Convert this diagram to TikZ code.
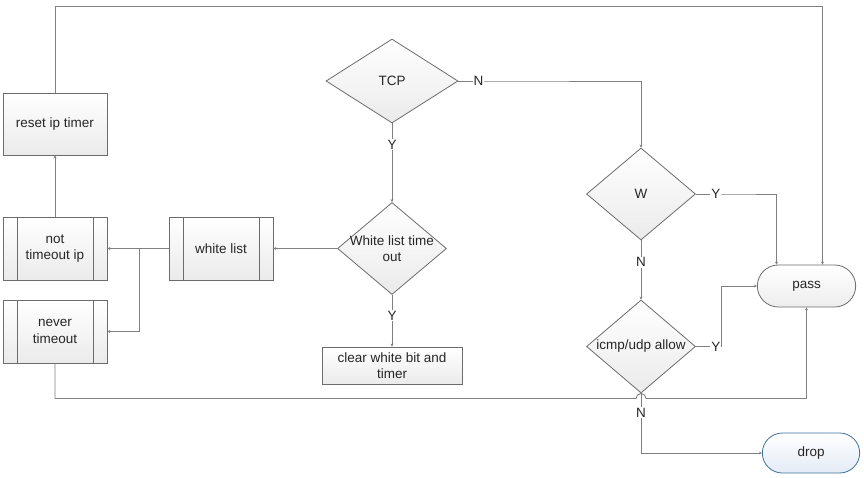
\documentclass[tikz,border=0pt]{standalone}
\usepackage{fontspec}
\setmainfont{Liberation Sans}
\usepackage{tikz}
\usetikzlibrary{shapes.geometric, shapes.misc, arrows.meta, calc}
\definecolor{dropline}{HTML}{41719C}
\definecolor{dropfill}{HTML}{E3EBF5}

\begin{document}
\begin{tikzpicture}[x=1pt, y=-1pt, >={Stealth[length=3pt, width=3pt]},
  font=\fontsize{13.5}{16.5}\selectfont, text=black!85,
  flow/.style={->, draw=gray, line width=0.9pt},
  box/.style={rectangle, draw=gray!85!black, line width=0.8pt, top color=white, bottom color=gray!16,
    minimum width=104pt, minimum height=63pt, align=center, inner sep=2pt},
  subproc/.style={box, path picture={
    \draw[gray!85!black, line width=0.8pt]
      ([xshift=14pt]path picture bounding box.north west) -- ([xshift=14pt]path picture bounding box.south west)
      ([xshift=-14pt]path picture bounding box.north east) -- ([xshift=-14pt]path picture bounding box.south east);}},
  decision/.style={diamond, draw=gray!85!black, line width=0.8pt, top color=white, bottom color=gray!16,
    inner sep=0pt, minimum width=109pt, minimum height=92pt},
  term/.style={rounded rectangle, draw=gray!85!black, line width=0.8pt, top color=white, bottom color=gray!14,
    minimum width=105pt, minimum height=42pt},
  termblue/.style={term, draw=dropline, bottom color=dropfill, minimum width=104pt, minimum height=40pt},
  lbl/.style={fill=white, inner sep=1pt}]
\useasboundingbox (0,0) rectangle (864,477);

% left column
\node[box, minimum height=62pt] (reset) at (55,124) {reset ip timer};
\node[subproc] (nto) at (55,248.5) {not\\timeout ip};
\node[subproc] (never) at (55,331.5) {never\\timeout};
\node[subproc] (wl) at (221,248.5) {white list};

% tcp branch
\node[decision, minimum width=132pt, minimum height=84pt, label=center:TCP] (tcp) at (392,81) {};
\node[decision, label={[align=center]center:White list time\\out}] (wlt) at (392,248.5) {};
\node[box, minimum width=140pt, minimum height=37pt] (clr) at (392,365.5) {clear white bit and\\timer};

% other protocols
\node[decision, label=center:W] (w) at (641,194) {};
\node[decision, minimum height=93pt, label=center:icmp/udp allow] (icmp) at (641,346.5) {};
\node[term] (pass) at (806.5,286) {pass};
\node[termblue] (drop) at (811,453) {drop};

\coordinate (ttop) at (55,6);
\coordinate (jmp) at (641,398.5);

\draw[flow] (tcp.east) -- node[lbl]{N} ++(40,0) -| (w.north);
\draw[flow] (tcp.south) -- node[lbl, pos=0.27]{Y} (wlt.north);
\draw[flow] (wlt.south) -- node[lbl, pos=0.4]{Y} (clr.north);
\draw[flow] (wlt.west) -- (wl.east);
\draw[flow] (wl.west) -- (nto.east);
\draw[flow] (wl.west) -- ++(-29,0) |- (never.east);
\draw[flow] (nto.north) -- (reset.south);
\draw[flow] (reset.north) -- (ttop) -| ([xshift=16pt]pass.north);
\draw[flow] (never.south) -- (never.south |- jmp) -- ([xshift=-5pt]jmp)
  arc[start angle=180, end angle=0, radius=5pt] -- (pass.south |- jmp) -- (pass.south);
\draw[flow] (w.east) -- node[lbl]{Y} ++(40,0) -| ([xshift=-30pt]pass.north);
\draw[flow] (w.south) -- node[lbl, pos=0.37]{N} (icmp.north);
\draw[flow] (icmp.east) -- node[lbl, pos=0.77]{Y} ++(26,0) |- (pass.west);
\draw[flow] (icmp.south) |- node[lbl, pos=0.16]{N} (drop.west);
\end{tikzpicture}
\end{document}
